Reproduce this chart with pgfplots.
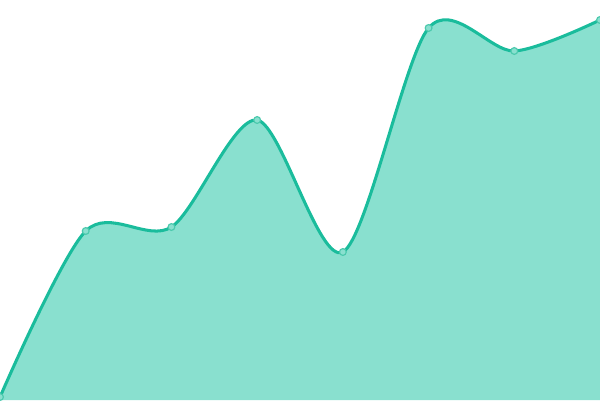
\documentclass[border=0pt]{standalone}
\usepackage{pgfplots}
\pgfplotsset{compat=1.18}
\definecolor{teal1}{HTML}{1ABC9C}
\definecolor{tealfill}{HTML}{89E0CF}
\definecolor{tealmark}{HTML}{4CC9AD}
\begin{document}
\begin{tikzpicture}
\begin{axis}[
    hide axis,
    scale only axis,
    width=9cm, height=6cm,
    xmin=0, xmax=7,
    ymin=0, ymax=400,
    clip=true,
]
% area
\addplot[fill=tealfill, draw=none, smooth, tension=0.5] coordinates {
    (0,3) (1,169) (2,173) (3,280) (4,148) (5,372) (6,349) (7,380)
} \closedcycle;
% line
\addplot[color=teal1, line width=1.3pt, smooth, tension=0.5] coordinates {
    (0,3) (1,169) (2,173) (3,280) (4,148) (5,372) (6,349) (7,380)
};
% point marks
\addplot[only marks, mark=*, mark size=1.45pt,
    mark options={fill=tealfill, draw=tealmark, line width=0.5pt}] coordinates {
    (0,3) (1,169) (2,173) (3,280) (4,148) (5,372) (6,349) (7,380)
};
\end{axis}
\pgfresetboundingbox
\path (current axis.south west) rectangle (current axis.north east);
\end{tikzpicture}
\end{document}
